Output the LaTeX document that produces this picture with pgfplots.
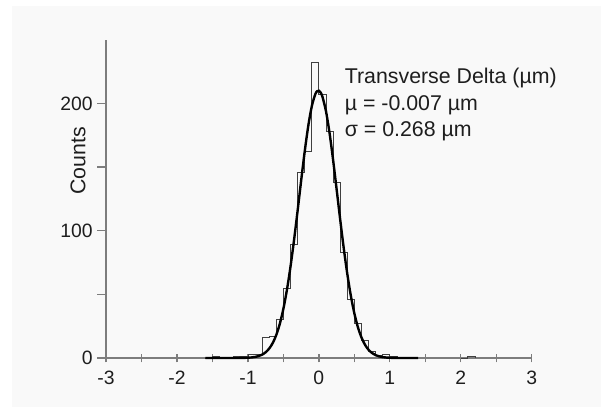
\documentclass[border=0pt]{standalone}
\usepackage{fontspec}
\setmainfont{Liberation Sans}
\usepackage{pgfplots}
\pgfplotsset{compat=1.18}
\definecolor{axgray}{RGB}{125,125,125}
\definecolor{panel}{RGB}{249,249,249}
\definecolor{txt}{RGB}{30,30,30}
\begin{document}
\begin{tikzpicture}
\path[use as bounding box] (0,0) rectangle (459.75pt,309.75pt);
\fill[panel] (9pt,4.5pt) rectangle (450.75pt,305.25pt);
\begin{axis}[
  at={(79.5pt,41.25pt)}, anchor=south west,
  scale only axis, width=319.3pt, height=238.7pt,
  xmin=-3, xmax=3, ymin=0, ymax=250,
  axis x line=bottom, axis y line=left,
  axis line style={-, axgray, line width=1.5pt},
  xtick={-3,-2,...,3}, minor xtick={-2.5,-1.5,...,2.5},
  ytick={0,100,200}, minor ytick={50,150},
  tick align=outside,
  major tick length=6.5pt, minor tick length=6.5pt,
  every tick/.style={axgray, line width=1pt},
  xtick style={yshift=3.2pt},
  font=\fontsize{16}{19}\selectfont,
  /pgf/number format/assume math mode=true,
  ticklabel style={txt, font=\fontsize{14.5}{17}\selectfont},
  ylabel={Counts},
  ylabel style={at={(axis description cs:0,0.62)}, anchor=center, yshift=21pt, txt},
  clip=false,
]
\addplot[const plot mark left, draw=black!75, line width=0.6pt] coordinates {
(-1.6,0) (-1.5,1) (-1.4,0) (-1.3,0) (-1.2,1) (-1.1,1) (-1.0,3) (-0.9,3)
(-0.8,16) (-0.7,17) (-0.6,30) (-0.5,55) (-0.4,89) (-0.3,146) (-0.2,162)
(-0.1,232) (0.0,207) (0.1,178) (0.2,138) (0.3,83) (0.4,46) (0.5,27)
(0.6,14) (0.7,5) (0.8,2) (0.9,3) (1.0,1) (1.1,0) (1.2,0)
};
\addplot[const plot mark left, draw=black!75, line width=0.6pt] coordinates {
(2.0,0) (2.1,1) (2.2,0)
};
\addplot[black, line width=1.8pt, smooth] coordinates {
(-1.6,0) (-1.4,0) (-1.2,0.01) (-1.1,0.05) (-1.0,0.22) (-0.95,0.43) (-0.9,0.81)
(-0.85,1.49) (-0.8,2.63) (-0.75,4.50) (-0.7,7.42) (-0.65,11.81) (-0.6,18.15)
(-0.55,26.96) (-0.5,38.7) (-0.45,53.6) (-0.4,71.7) (-0.35,92.6) (-0.3,115.5)
(-0.25,139.2) (-0.2,162.0) (-0.15,182.1) (-0.1,197.7) (-0.05,207.3) (-0.025,209.5)
(0,209.9) (0.025,208.5) (0.05,205.3) (0.1,193.9) (0.15,176.9) (0.2,155.8)
(0.25,132.6) (0.3,109.0) (0.35,86.5) (0.4,66.3) (0.45,49.1) (0.5,35.1)
(0.55,24.2) (0.6,16.2) (0.65,10.4) (0.7,6.47) (0.75,3.88) (0.8,2.25)
(0.85,1.26) (0.9,0.68) (0.95,0.36) (1.0,0.18) (1.1,0.04) (1.2,0.01) (1.4,0)
};
\node[anchor=base west, txt] at (axis cs:0.30,215.5) {Transverse Delta (µm)};
\node[anchor=base west, txt] at (axis cs:0.30,194.5) {µ = -0.007 µm};
\node[anchor=base west, txt] at (axis cs:0.30,173.6) {σ = 0.268 µm};
\end{axis}
\end{tikzpicture}
\end{document}
